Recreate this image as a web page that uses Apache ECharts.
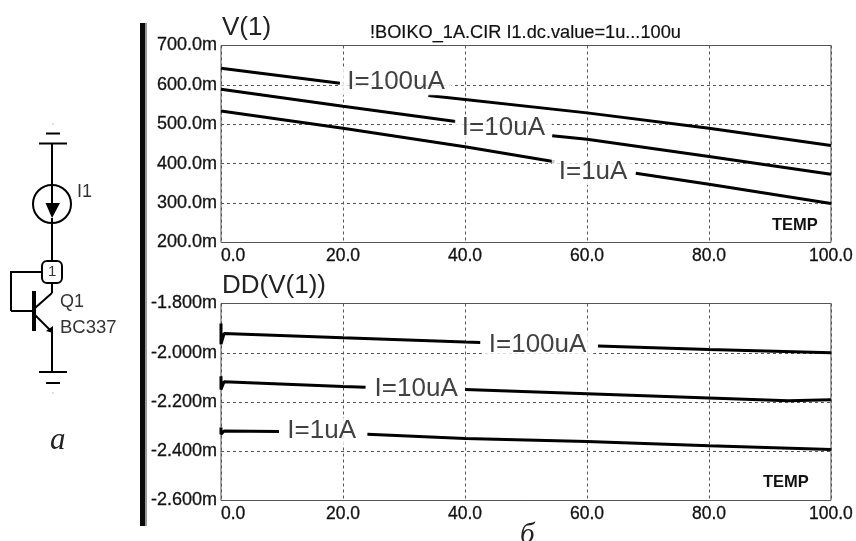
<!DOCTYPE html>
<html><head><meta charset="utf-8">
<style>html,body{margin:0;padding:0;background:#fff}#c{width:856px;height:541px}</style>
<script src="https://cdn.jsdelivr.net/npm/echarts@6/dist/echarts.min.js"></script>
</head><body><div id="c"></div>
<script>
const v100 = [[0,642],[19.5,604],[30,null],[34,573],[60,529],[80,490],[100,446]];
const v10 = [[0,589],[20,546],[38.5,507],[46,null],[54.3,471],[60,462],[80,418],[100,373]];
const v1 = [[0,534],[20,490],[40,443],[54.7,405],[61,null],[68,376],[80,348],[100,299]];
const dd100 = [[0,-1881],[0,-1965],[0.5,-1922],[20,-1939],[40,-1956],[42.5,-1958],[52,null],[61.8,-1973],[80,-1987],[100,-2000]];
const dd10 = [[0,-2095],[0,-2149],[0.5,-2118],[20,-2137],[23.7,-2140],[32,null],[40,-2149],[60,-2167],[80,-2184],[93,-2195],[100,-2191]];
const dd1 = [[0,-2304],[0,-2331],[0.5,-2318],[9.5,-2320],[16,null],[24,-2331],[40,-2348],[60,-2360],[80,-2378],[100,-2393]];
const vLabels = [[28.7,608,'I=100uA'],[46.3,490,'I=10uA'],[61,380,'I=1uA']];
const ddLabels = [[51.9,-1969,'I=100uA'],[32,-2145,'I=10uA'],[16.5,-2319,'I=1uA']];
const titleTop = 'V(1)', titleBottom = 'DD(V(1))';
const heading = '!BOIKO_1A.CIR I1.dc.value=1u...100u';

const F = '"Liberation Sans", Arial, sans-serif';
const ink = '#111';
function fmtV(v){ return v.toFixed(1) + 'm'; }
function fmtD(v){ return (v/1000).toFixed(3) + 'm'; }
function xAxis(i){ return {
  type:'value', gridIndex:i, min:0, max:100, interval:20,
  axisLine:{show:false}, axisTick:{show:false},
  splitLine:{show:true, lineStyle:{color:'#555', type:[3,3], width:1}},
  axisLabel:{color:ink, fontFamily:F, fontSize:17.5, margin:5, alignMinLabel:'left', showMinLabel:true, showMaxLabel:true,
    textBorderColor:ink, textBorderWidth:0.3, formatter:v=>v.toFixed(1)}
};}
function yAxis(i,min,max,step,fmt){ return {
  type:'value', gridIndex:i, min, max, interval:step,
  axisLine:{show:false}, axisTick:{show:false},
  splitLine:{show:true, lineStyle:{color:'#555', type:[3,3], width:1}},
  axisLabel:{color:ink, fontFamily:F, fontSize:18, margin:4, showMinLabel:true, showMaxLabel:true,
    textBorderColor:ink, textBorderWidth:0.3, formatter:fmt}
};}
function curve(i,d){ return {type:'line', xAxisIndex:i, yAxisIndex:i, data:d, showSymbol:false, symbol:'none', silent:true, animation:false,
  lineStyle:{color:'#000', width:3, cap:'butt'}, z:3};}
function labels(i,d){ return {type:'scatter', xAxisIndex:i, yAxisIndex:i, data:d, symbolSize:1, silent:true, animation:false, z:5,
  itemStyle:{color:'transparent'},
  label:{show:true, position:'inside', formatter:p=>p.value[2], fontFamily:F, fontSize:26, color:'#111', backgroundColor:'#fff', padding:[0,7,0,7], lineHeight:27}};}
const line = (x1,y1,x2,y2,w) => ({type:'line', shape:{x1,y1,x2,y2}, style:{stroke:'#000', lineWidth:w||2}});
const txt = (x,y,text,size,extra) => ({type:'text', x, y, style:Object.assign({text, fontFamily:F, fontSize:size, fill:'#111', verticalAlign:'middle'}, extra||{})});
const chart = echarts.init(document.getElementById('c'), null, {renderer:'canvas'});
chart.setOption({
  animation:false, backgroundColor:'#fff',
  grid:[
    {left:221, top:45.5, width:611, height:197, show:true, borderColor:'#555', borderWidth:1},
    {left:221, top:303.5, width:611, height:197, show:true, borderColor:'#555', borderWidth:1}
  ],
  xAxis:[xAxis(0), xAxis(1)],
  yAxis:[yAxis(0,200,700,100,fmtV), yAxis(1,-2600,-1800,200,fmtD)],
  series:[curve(0,v100),curve(0,v10),curve(0,v1),curve(1,dd100),curve(1,dd10),curve(1,dd1),labels(0,vLabels),labels(1,ddLabels)],
  graphic:[
    {type:'rect', shape:{x:140,y:23,width:7,height:503}, style:{fill:'#999'}},
    {type:'rect', shape:{x:140,y:23,width:5,height:503}, style:{fill:'#0a0a0a'}},
    txt(222,28,titleTop,26,{fill:'#222'}), txt(222,286,titleBottom,26,{fill:'#222'}),
    txt(370,33,heading,18.2,{stroke:'#111',lineWidth:0.2}),
    txt(772,225,'TEMP',16.5,{fontWeight:'bold'}), txt(763,482,'TEMP',16.5,{fontWeight:'bold'}),
    {type:'circle', shape:{cx:53,cy:124,r:0.6}, style:{fill:'#777'}},
    line(46,133.5,60,133.5), line(39,143.5,67,143.5), line(52,143,52,185),
    {type:'circle', shape:{cx:52,cy:204,r:19}, style:{fill:'#fff',stroke:'#000',lineWidth:2}},
    line(52,185,52,205),
    {type:'polygon', shape:{points:[[45.5,203],[60,203],[52,218]]}, style:{fill:'#000'}},
    line(52,218,52,261),
    {type:'rect', shape:{x:42,y:261,width:20,height:22,r:5}, style:{fill:'#fff',stroke:'#000',lineWidth:2}},
    txt(48,272,'1',15,{fill:'#333'}),
    line(42,272,11,272), line(11,271,11,311), line(11,311,33,311),
    {type:'rect', shape:{x:32,y:291,width:4,height:40}, style:{fill:'#000'}},
    line(35,308,52,293), line(52,293,52,283),
    line(35,315,52,332), {type:'polygon', shape:{points:[[53,326],[53,333],[46,331]]}, style:{fill:'#000'}},
    line(52,331,52,372), line(39,372,67,372), line(46,383,60,383),
    {type:'circle', shape:{cx:53,cy:393,r:0.6}, style:{fill:'#777'}},
    txt(77,192,'I1',18,{fill:'#333'}), txt(60,302,'Q1',18,{fill:'#333'}), txt(60,328,'BC337',18.5,{fill:'#333'}),
    txt(50,441,'а',31,{fontFamily:'"Liberation Serif",serif',fontStyle:'italic',fill:'#222'}),
    txt(520,535,'б',29,{fontFamily:'"Liberation Serif",serif',fontStyle:'italic',fill:'#222'})
  ]
});
</script></body></html>
